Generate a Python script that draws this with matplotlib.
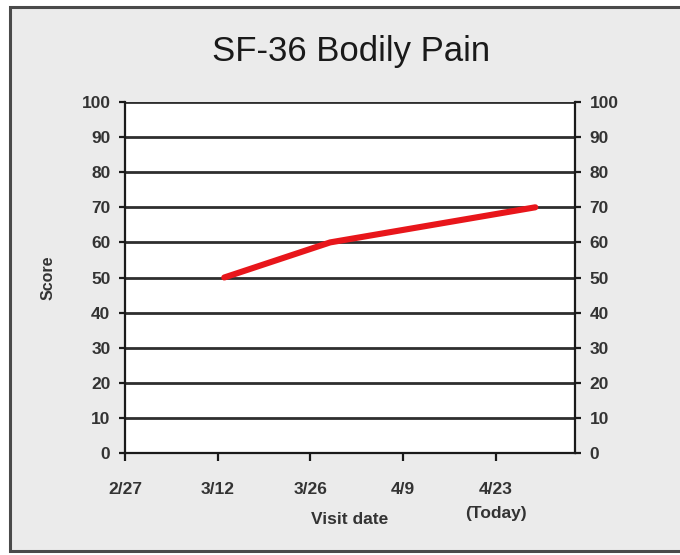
import numpy as np
import matplotlib.pyplot as plt
from matplotlib.patches import Rectangle

# data (2008 spacing: ticks every 14 days)
visit_dates = np.array(['2008-03-13', '2008-03-29', '2008-04-29'], dtype='datetime64[D]')
scores = [50, 60, 70]

tick_dates = np.array(['2008-02-27', '2008-03-12', '2008-03-26', '2008-04-09', '2008-04-23'],
                      dtype='datetime64[D]')
tick_labels = ['2/27', '3/12', '3/26', '4/9', '4/23\n(Today)']
score_ticks = list(range(0, 101, 10))

plt.rcParams['font.family'] = ['Liberation Sans', 'DejaVu Sans']
lab_col = '#333333'

fig = plt.figure(figsize=(6.8, 5.55), dpi=100, facecolor='white')

# grey panel with dark frame behind the chart
fig.patches.append(Rectangle((10 / 680, 4 / 555), 680 / 680, 544 / 555,
                             transform=fig.transFigure, facecolor='#ebebeb',
                             edgecolor='#4a4a4a', linewidth=2.2, zorder=-5))

ax = fig.add_axes([125 / 680, 1 - 453 / 555, 450 / 680, 351 / 555])
ax.set_zorder(2)
ax.set_facecolor('white')

ax.plot(visit_dates, scores, color='#e8161b', linewidth=4.4, solid_capstyle='round', zorder=3)

ax.set_ylim(0, 100)
ax.set_xlim(np.datetime64('2008-02-27'), np.datetime64('2008-05-05'))
ax.set_yticks(score_ticks)
ax.set_xticks(tick_dates)
ax.set_xticklabels(tick_labels)

ax.yaxis.grid(True, color='#2e2e2e', linewidth=2.0)
ax.set_axisbelow(True)
for s in ax.spines.values():
    s.set_color('#1a1a1a')
    s.set_linewidth(1.6)
ax.spines['top'].set_visible(False)

ax.tick_params(axis='both', direction='out', width=1.6, color='#1a1a1a',
               labelsize=12.5, labelcolor=lab_col)
ax.tick_params(axis='y', right=True, labelright=True, length=4.5, pad=6)
ax.tick_params(axis='x', length=6, pad=15)
for t in ax.yaxis.get_major_ticks() + ax.xaxis.get_major_ticks():
    t.label1.set_fontweight('bold')
    t.label2.set_fontweight('bold')
ax.get_xticklabels()[-1].set_linespacing(1.7)

ax.set_xlabel('Visit date', fontsize=12.5, fontweight='bold', color=lab_col, va='center')
ax.xaxis.set_label_coords(0.5, -0.19)
ax.set_ylabel('Score', fontsize=11.5, fontweight='bold', color=lab_col, va='center')
ax.yaxis.set_label_coords(-0.171, 0.5)

fig.text(351 / 680, 1 - 51 / 555, 'SF-36 Bodily Pain', ha='center', va='center',
         fontsize=25, color='#1a1a1a')

fig.savefig('out.png', dpi=100, facecolor=fig.get_facecolor())
